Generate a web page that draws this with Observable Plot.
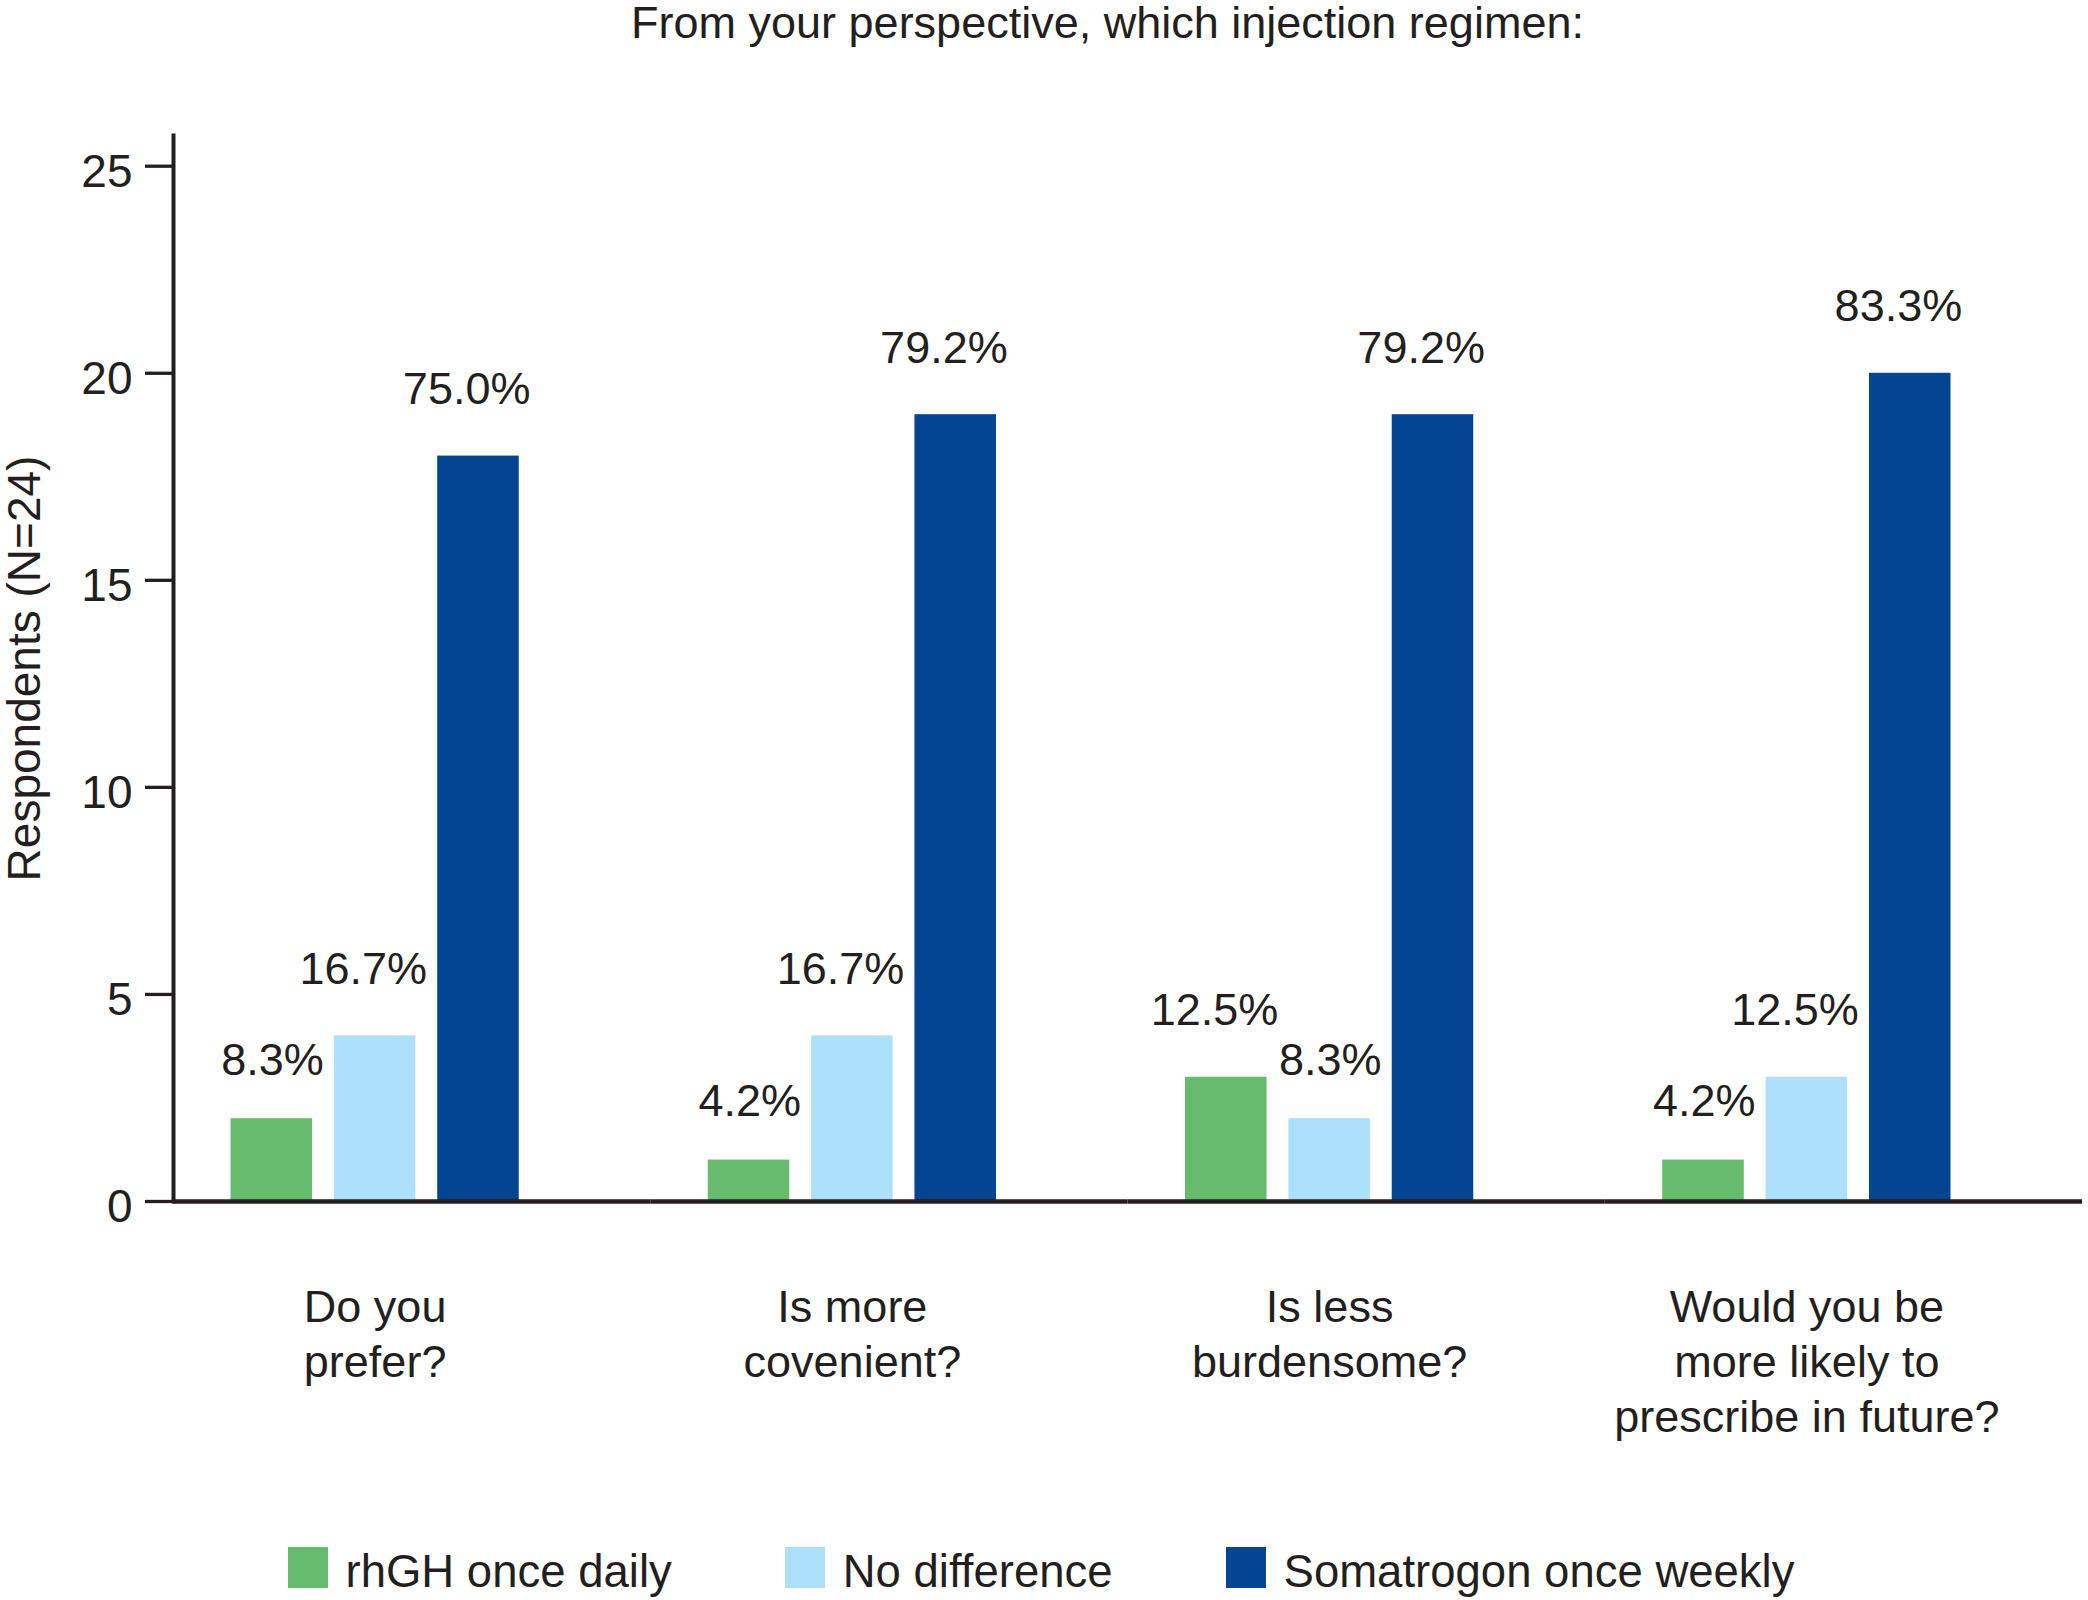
<!DOCTYPE html>
<html><head><meta charset="utf-8">
<script src="https://cdn.jsdelivr.net/npm/d3@7"></script>
<script src="https://cdn.jsdelivr.net/npm/@observablehq/plot@0.6"></script>
<style>
html,body{margin:0;padding:0;background:#fff;overflow:hidden;}
body{width:2088px;height:1600px;font-family:"Liberation Sans",Arial,sans-serif;color:#231f20;}
#title{font-size:45px;line-height:46px;height:46px;padding-left:127px;text-align:center;white-space:nowrap;}
#chart svg{display:block;max-width:none;}
#legend{display:flex;justify-content:center;align-items:flex-start;gap:113px;margin-top:2px;padding-right:6px;}
.item{display:flex;align-items:flex-start;}
.sw{width:40px;height:41px;margin-right:18px;}
.lab{font-size:45.5px;line-height:41px;padding-top:4px;white-space:nowrap;}
</style></head><body>
<div id="title">From your perspective, which injection regimen:</div>
<div id="chart"></div>
<div id="legend"></div>
<script>
const questions = ["Do you\nprefer?", "Is more\ncovenient?", "Is less\nburdensome?", "Would you be\nmore likely to\nprescribe in future?"];
const series = ["rhGH once daily", "No difference", "Somatrogon once weekly"];
const colors = ["#66bb6e", "#ade0fa", "#034591"];
const rhGH = [2, 1, 3, 1];
const noDifference = [4, 4, 2, 3];
const somatrogon = [18, 19, 19, 20];
const rhGHLabels = ["8.3%", "4.2%", "12.5%", "4.2%"];
const noDifferenceLabels = ["16.7%", "16.7%", "8.3%", "12.5%"];
const somatrogonLabels = ["75.0%", "79.2%", "79.2%", "83.3%"];
const yTicks = [0, 5, 10, 15, 20, 25];
const yLabel = "Respondents (N=24)";

const seriesValues = [rhGH, noDifference, somatrogon];
const seriesLabels = [rhGHLabels, noDifferenceLabels, somatrogonLabels];
const rows = [];
questions.forEach((q, i) => {
  series.forEach((s, j) => {
    rows.push({question: q, series: s, value: seriesValues[j][i], label: seriesLabels[j][i]});
  });
});

const ink = "#231f20";
const chart = Plot.plot({
  width: 2088,
  height: 1499,
  marginLeft: 173,
  marginRight: 6,
  marginTop: 89,
  marginBottom: 344,
  style: {fontFamily: "'Liberation Sans', Arial, sans-serif", fontSize: "45px", color: ink, background: "white", overflow: "visible"},
  fx: {domain: questions, padding: 0, axis: null, round: false, label: null},
  x: {domain: series, axis: null, paddingInner: 0.211, paddingOuter: 0, insetLeft: 57.5, insetRight: 131.5, round: false, label: null},
  y: {domain: [0, 25], insetTop: 30.7, axis: null},
  color: {domain: series, range: colors},
  marks: [
    Plot.barY(rows, {fx: "question", x: "series", y: "value", fill: "series"}),
    Plot.text(rows.filter(d => d.label.length > 4), {fx: "question", x: "series", y: "value", text: "label", textAnchor: "end", lineAnchor: "bottom", dx: 52, dy: -52, fill: ink, fontSize: 45}),
    Plot.text(rows.filter(d => d.label.length <= 4), {fx: "question", x: "series", y: "value", text: "label", textAnchor: "end", lineAnchor: "bottom", dx: 52, dy: -44, fill: ink, fontSize: 45}),
    Plot.ruleY([0], {stroke: ink, strokeWidth: 4.5}),
    Plot.frame({anchor: "left", fx: questions[0], stroke: ink, strokeWidth: 4}),
    Plot.axisY({ticks: yTicks, tickSize: 28, tickFormat: () => "", stroke: ink, strokeWidth: 3.3, label: null}),
    Plot.axisY({ticks: yTicks, tickSize: 0, tickPadding: 41, dy: 6, fill: ink, fontSize: 46, label: yLabel, labelAnchor: "center", labelOffset: 166, labelArrow: "none"}),
    Plot.text(questions, {fx: d => d, x: () => series[1], text: d => d, frameAnchor: "bottom", lineAnchor: "top", dy: 81.7, lineHeight: 1.22, fill: ink, fontSize: 45})
  ]
});
document.getElementById("chart").appendChild(chart);

const legend = d3.select("#legend");
series.forEach((s, j) => {
  const item = legend.append("div").attr("class", "item");
  item.append("div").attr("class", "sw").style("background", colors[j]);
  item.append("span").attr("class", "lab").text(s);
});
</script>
</body></html>
